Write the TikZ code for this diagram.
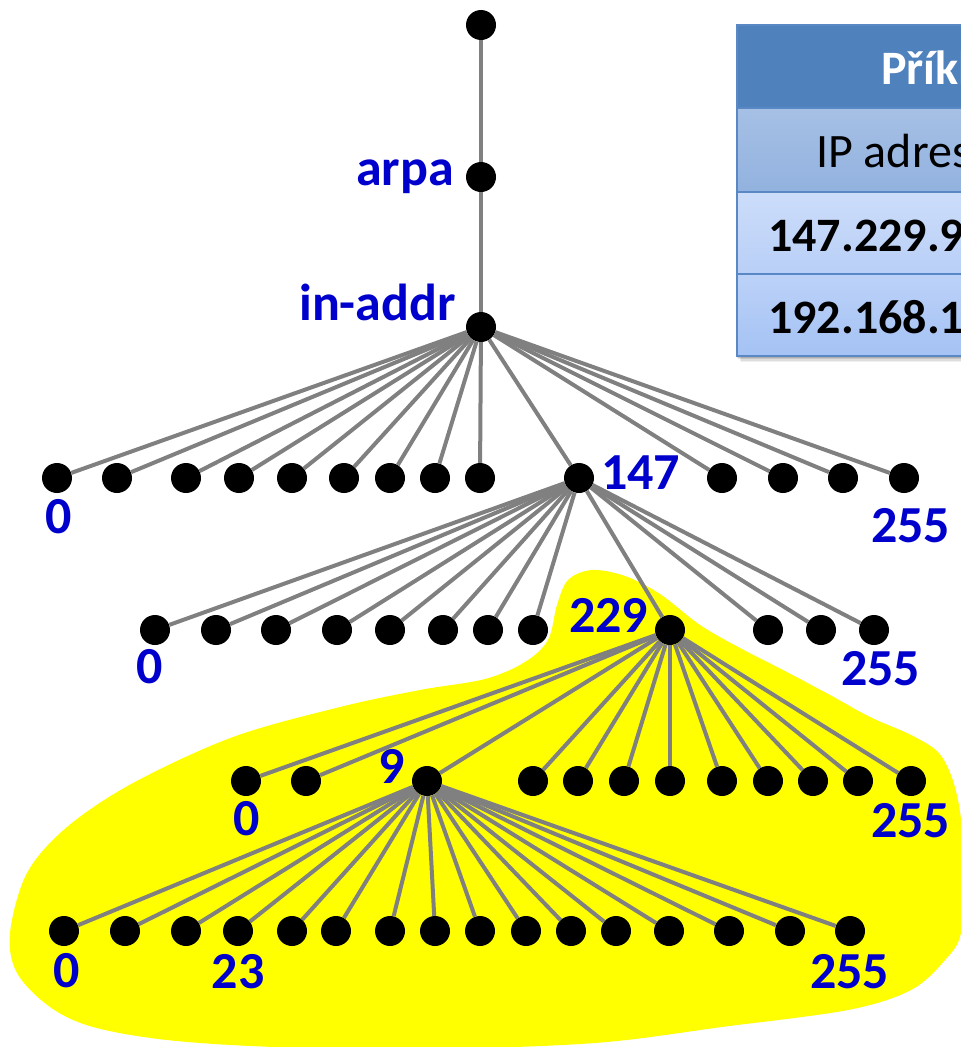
\documentclass[tikz,border=0pt]{standalone}
\usepackage{fontspec}
\setmainfont{Carlito}
\definecolor{lblue}{HTML}{0000CC}
\definecolor{edgegray}{HTML}{808080}
\definecolor{hiyellow}{HTML}{FFFF00}
\definecolor{hdrblue}{HTML}{4F81BD}
\definecolor{rowtwoA}{HTML}{A6C0E5}
\definecolor{rowtwoB}{HTML}{92B2DF}
\definecolor{rowthrA}{HTML}{CCDDFA}
\definecolor{rowthrB}{HTML}{B9CFF7}
\definecolor{rowfouA}{HTML}{BCD2F8}
\definecolor{rowfouB}{HTML}{A4C2F4}
\definecolor{tborder}{HTML}{5A88C4}
\tikzset{
  dot/.style={circle,fill=black,minimum size=30pt,inner sep=0pt},
  edge/.style={draw=edgegray,line width=4pt},
  lbl/.style={text=lblue,font=\bfseries\fontsize{52}{62}\selectfont,inner sep=0pt},
  tbl/.style={font=\fontsize{48}{58}\selectfont,inner sep=0pt,anchor=base west},
}
\begin{document}
\begin{tikzpicture}[x=1pt,y=-1pt]
\useasboundingbox (0,0) rectangle (961,1047);
\begin{scope}
\clip (0,0) rectangle (961,1047);
% yellow highlight
\fill[hiyellow] plot[smooth cycle,tension=0.55] coordinates {
(340,707)(420,690)(485,679)(525,662)(548,640)(557,605)(568,580)(592,570)(625,576)(660,594)(700,625)(740,648)(783,670)(830,695)(870,717)(915,737)(942,757)(958,800)(965,870)(961,933)(945,960)(911,990)(848,1010)(722,1027)(595,1043)(430,1049)(275,1047)(167,1040)(93,1027)(50,1007)(17,973)(10,933)(27,873)(67,827)(133,783)(233,737)};
% table shadow
\foreach \o/\op in {6/0.06,4.5/0.08,3/0.1,1.5/0.12}
  \fill[black,opacity=\op] (737+\o-2,25+\o) rectangle (1300,356+\o);
% table
\fill[hdrblue] (737,25) rectangle (1300,108);
\shade[top color=rowtwoA,bottom color=rowtwoB] (737,108) rectangle (1300,192);
\shade[top color=rowthrA,bottom color=rowthrB] (737,192) rectangle (1300,274);
\shade[top color=rowfouA,bottom color=rowfouB] (737,274) rectangle (1300,356);
\draw[tborder,line width=1.5pt] (737,25) rectangle (1300,356);
\draw[tborder,line width=1.5pt] (737,108) -- (1300,108);
\draw[tborder,line width=1.5pt] (737,192) -- (1300,192);
\draw[tborder,line width=1.5pt] (737,274) -- (1300,274);
\node[tbl,text=white,font=\bfseries\fontsize{48}{58}\selectfont] (th) at (881,84) {Příklad};
\node[tbl] (tr1) at (816,167) {IP adresa};
\node[tbl,font=\bfseries\fontsize{48}{58}\selectfont] (tr2) at (768,251) {147.229.9.23};
\node[tbl,font=\bfseries\fontsize{48}{58}\selectfont] (tr3) at (768,333) {192.168.1.1};
\end{scope}
% tree nodes
\node[dot] (root) at (481,25) {};
\node[dot] (arpa) at (481,177) {};
\node[dot] (inaddr) at (481,327) {};
\foreach \x [count=\i] in {57,117,186,239,292,344,390,435,480,579,722,783,843,904}
  \node[dot] (a\i) at (\x,478) {};
\foreach \x [count=\i] in {155,216,276,337,390,443,488,533,670,768,821,874}
  \node[dot] (b\i) at (\x,630) {};
\foreach \x [count=\i] in {246,306,427,533,578,624,670,722,768,813,858,911}
  \node[dot] (c\i) at (\x,781) {};
\foreach \x [count=\i] in {64,125,186,238,292,336,390,435,480,526,571,616,669,729,790,850}
  \node[dot] (d\i) at (\x,931) {};
% edges
\draw[edge] (root) -- (arpa);
\draw[edge] (arpa) -- (inaddr);
\foreach \i in {1,...,14} \draw[edge] (inaddr) -- (a\i);
\foreach \i in {1,...,12} \draw[edge] (a10) -- (b\i);
\foreach \i in {1,...,12} \draw[edge] (b9) -- (c\i);
\foreach \i in {1,...,16} \draw[edge] (c3) -- (d\i);
% labels
\node[lbl,anchor=base east] (larpa) at (454,185) {arpa};
\node[lbl,anchor=base east] (linaddr) at (456,320) {in-addr};
\node[lbl,anchor=base] (la0) at (59,533) {0};
\node[lbl,anchor=base west] (la147) at (601,489) {147};
\node[lbl,anchor=base west] (la255) at (871,542) {255};
\node[lbl,anchor=base] (lb0) at (150,683) {0};
\node[lbl,anchor=base west] (lb229) at (569,632) {229};
\node[lbl,anchor=base west] (lb255) at (841,685) {255};
\node[lbl,anchor=base] (lc0) at (247,835) {0};
\node[lbl,anchor=base] (lc9) at (392,783) {9};
\node[lbl,anchor=base west] (lc255) at (871,837) {255};
\node[lbl,anchor=base] (ld0) at (67,987) {0};
\node[lbl,anchor=base] (ld23) at (238,988) {23};
\node[lbl,anchor=base west] (ld255) at (810,988) {255};
\end{tikzpicture}
\end{document}
